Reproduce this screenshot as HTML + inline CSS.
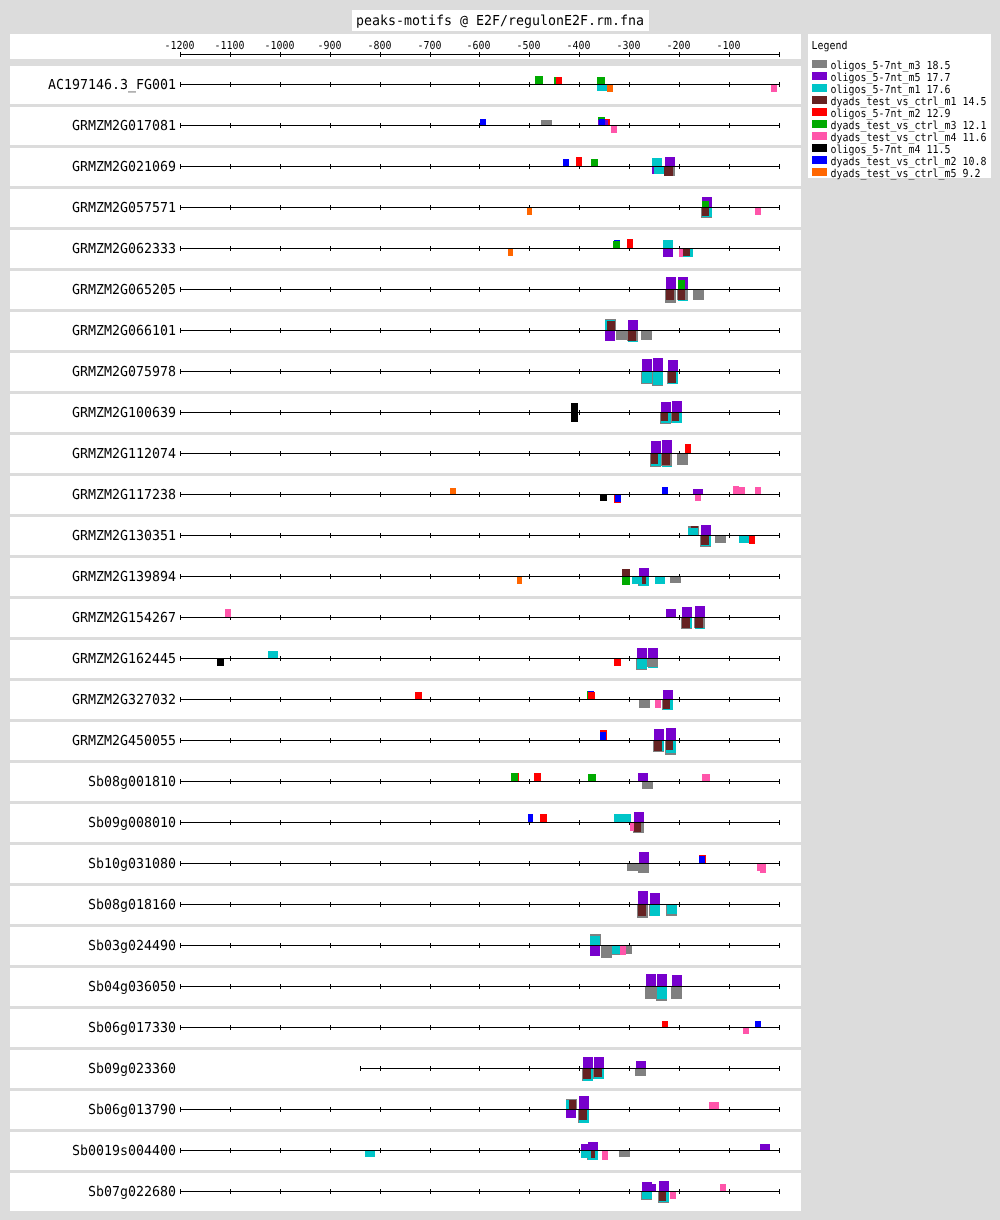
<!DOCTYPE html>
<html lang="en"><head><meta charset="utf-8"><title>peaks-motifs @ E2F/regulonE2F.rm.fna</title>
<style>
html,body{margin:0;padding:0;background:#dcdcdc;}
body{width:1000px;height:1220px;overflow:hidden;}
svg{display:block;will-change:transform;}
.t{font-family:"DejaVu Sans Mono","Liberation Mono",monospace;font-size:13.7px;fill:#000;}
.s{font-family:"DejaVu Sans Mono","Liberation Mono",monospace;font-size:11px;fill:#000;}
.ln{fill:#000;}
</style></head><body>
<svg width="1000" height="1220" viewBox="0 0 1000 1220" shape-rendering="crispEdges" text-rendering="geometricPrecision">
<rect x="0" y="0" width="1000" height="1220" fill="#dcdcdc"/>
<rect x="352" y="10" width="297" height="21" fill="#fff"/>
<text class="t" x="356" y="25" textLength="288" lengthAdjust="spacingAndGlyphs">peaks-motifs @ E2F/regulonE2F.rm.fna</text>
<rect x="10" y="34" width="791" height="25" fill="#fff"/>
<rect class="ln" x="180" y="54" width="600" height="1"/>
<rect class="ln" x="180" y="52" width="1" height="5"/>
<text class="s" x="164.5" y="49" textLength="30" lengthAdjust="spacingAndGlyphs">-1200</text>
<rect class="ln" x="230" y="52" width="1" height="5"/>
<text class="s" x="214.5" y="49" textLength="30" lengthAdjust="spacingAndGlyphs">-1100</text>
<rect class="ln" x="280" y="52" width="1" height="5"/>
<text class="s" x="264.5" y="49" textLength="30" lengthAdjust="spacingAndGlyphs">-1000</text>
<rect class="ln" x="330" y="52" width="1" height="5"/>
<text class="s" x="317.5" y="49" textLength="24" lengthAdjust="spacingAndGlyphs">-900</text>
<rect class="ln" x="380" y="52" width="1" height="5"/>
<text class="s" x="367.5" y="49" textLength="24" lengthAdjust="spacingAndGlyphs">-800</text>
<rect class="ln" x="430" y="52" width="1" height="5"/>
<text class="s" x="417.5" y="49" textLength="24" lengthAdjust="spacingAndGlyphs">-700</text>
<rect class="ln" x="479" y="52" width="1" height="5"/>
<text class="s" x="466.5" y="49" textLength="24" lengthAdjust="spacingAndGlyphs">-600</text>
<rect class="ln" x="529" y="52" width="1" height="5"/>
<text class="s" x="516.5" y="49" textLength="24" lengthAdjust="spacingAndGlyphs">-500</text>
<rect class="ln" x="579" y="52" width="1" height="5"/>
<text class="s" x="566.5" y="49" textLength="24" lengthAdjust="spacingAndGlyphs">-400</text>
<rect class="ln" x="629" y="52" width="1" height="5"/>
<text class="s" x="616.5" y="49" textLength="24" lengthAdjust="spacingAndGlyphs">-300</text>
<rect class="ln" x="679" y="52" width="1" height="5"/>
<text class="s" x="666.5" y="49" textLength="24" lengthAdjust="spacingAndGlyphs">-200</text>
<rect class="ln" x="729" y="52" width="1" height="5"/>
<text class="s" x="716.5" y="49" textLength="24" lengthAdjust="spacingAndGlyphs">-100</text>
<rect class="ln" x="779" y="52" width="1" height="5"/>
<rect x="808" y="34" width="183" height="144" fill="#fff"/>
<text class="s" x="811.5" y="49" textLength="36" lengthAdjust="spacingAndGlyphs">Legend</text>
<rect x="812" y="60" width="15" height="8" fill="#808080"/>
<text class="s" x="830.4" y="68.8" textLength="120" lengthAdjust="spacingAndGlyphs">oligos_5-7nt_m3 18.5</text>
<rect x="812" y="72" width="15" height="8" fill="#7700cc"/>
<text class="s" x="830.4" y="80.8" textLength="120" lengthAdjust="spacingAndGlyphs">oligos_5-7nt_m5 17.7</text>
<rect x="812" y="84" width="15" height="8" fill="#00c5c8"/>
<text class="s" x="830.4" y="92.8" textLength="120" lengthAdjust="spacingAndGlyphs">oligos_5-7nt_m1 17.6</text>
<rect x="812" y="96" width="15" height="8" fill="#662222"/>
<text class="s" x="830.4" y="104.8" textLength="156" lengthAdjust="spacingAndGlyphs">dyads_test_vs_ctrl_m1 14.5</text>
<rect x="812" y="108" width="15" height="8" fill="#ff0000"/>
<text class="s" x="830.4" y="116.8" textLength="120" lengthAdjust="spacingAndGlyphs">oligos_5-7nt_m2 12.9</text>
<rect x="812" y="120" width="15" height="8" fill="#00aa00"/>
<text class="s" x="830.4" y="128.8" textLength="156" lengthAdjust="spacingAndGlyphs">dyads_test_vs_ctrl_m3 12.1</text>
<rect x="812" y="132" width="15" height="8" fill="#ff55aa"/>
<text class="s" x="830.4" y="140.8" textLength="156" lengthAdjust="spacingAndGlyphs">dyads_test_vs_ctrl_m4 11.6</text>
<rect x="812" y="144" width="15" height="8" fill="#000000"/>
<text class="s" x="830.4" y="152.8" textLength="120" lengthAdjust="spacingAndGlyphs">oligos_5-7nt_m4 11.5</text>
<rect x="812" y="156" width="15" height="8" fill="#0000ff"/>
<text class="s" x="830.4" y="164.8" textLength="156" lengthAdjust="spacingAndGlyphs">dyads_test_vs_ctrl_m2 10.8</text>
<rect x="812" y="168" width="15" height="8" fill="#ff6600"/>
<text class="s" x="830.4" y="176.8" textLength="150" lengthAdjust="spacingAndGlyphs">dyads_test_vs_ctrl_m5 9.2</text>
<g>
<rect x="10" y="66" width="791" height="38" fill="#fff"/>
<text class="t" x="48" y="89" textLength="128" lengthAdjust="spacingAndGlyphs">AC197146.3_FG001</text>
<rect class="ln" x="180" y="84" width="600" height="1"/>
<rect class="ln" x="180" y="82" width="1" height="5"/>
<rect class="ln" x="230" y="82" width="1" height="5"/>
<rect class="ln" x="280" y="82" width="1" height="5"/>
<rect class="ln" x="330" y="82" width="1" height="5"/>
<rect class="ln" x="380" y="82" width="1" height="5"/>
<rect class="ln" x="430" y="82" width="1" height="5"/>
<rect class="ln" x="479" y="82" width="1" height="5"/>
<rect class="ln" x="529" y="82" width="1" height="5"/>
<rect class="ln" x="579" y="82" width="1" height="5"/>
<rect class="ln" x="629" y="82" width="1" height="5"/>
<rect class="ln" x="679" y="82" width="1" height="5"/>
<rect class="ln" x="729" y="82" width="1" height="5"/>
<rect class="ln" x="779" y="82" width="1" height="5"/>
<rect x="535" y="76" width="8" height="8" fill="#00aa00"/>
<rect x="554" y="77" width="7" height="7" fill="#00aa00"/>
<rect x="556" y="77" width="6" height="7" fill="#ff0000"/>
<rect x="597" y="77" width="8" height="7" fill="#00aa00"/>
<rect x="597" y="85" width="10" height="6" fill="#00c5c8"/>
<rect x="607" y="85" width="6" height="7" fill="#ff6600"/>
<rect x="771" y="85" width="6" height="7" fill="#ff55aa"/>
</g>
<g>
<rect x="10" y="107" width="791" height="38" fill="#fff"/>
<text class="t" x="72" y="130" textLength="104" lengthAdjust="spacingAndGlyphs">GRMZM2G017081</text>
<rect class="ln" x="180" y="125" width="600" height="1"/>
<rect class="ln" x="180" y="123" width="1" height="5"/>
<rect class="ln" x="230" y="123" width="1" height="5"/>
<rect class="ln" x="280" y="123" width="1" height="5"/>
<rect class="ln" x="330" y="123" width="1" height="5"/>
<rect class="ln" x="380" y="123" width="1" height="5"/>
<rect class="ln" x="430" y="123" width="1" height="5"/>
<rect class="ln" x="479" y="123" width="1" height="5"/>
<rect class="ln" x="529" y="123" width="1" height="5"/>
<rect class="ln" x="579" y="123" width="1" height="5"/>
<rect class="ln" x="629" y="123" width="1" height="5"/>
<rect class="ln" x="679" y="123" width="1" height="5"/>
<rect class="ln" x="729" y="123" width="1" height="5"/>
<rect class="ln" x="779" y="123" width="1" height="5"/>
<rect x="480" y="119" width="6" height="6" fill="#0000ff"/>
<rect x="541" y="120" width="11" height="5" fill="#808080"/>
<rect x="598" y="117" width="7" height="8" fill="#00aa00"/>
<rect x="603" y="119" width="7" height="6" fill="#ff0000"/>
<rect x="598" y="120" width="10" height="5" fill="#7700cc"/>
<rect x="599" y="119" width="6" height="6" fill="#0000ff"/>
<rect x="611" y="126" width="6" height="7" fill="#ff55aa"/>
</g>
<g>
<rect x="10" y="148" width="791" height="38" fill="#fff"/>
<text class="t" x="72" y="171" textLength="104" lengthAdjust="spacingAndGlyphs">GRMZM2G021069</text>
<rect class="ln" x="180" y="166" width="600" height="1"/>
<rect class="ln" x="180" y="164" width="1" height="5"/>
<rect class="ln" x="230" y="164" width="1" height="5"/>
<rect class="ln" x="280" y="164" width="1" height="5"/>
<rect class="ln" x="330" y="164" width="1" height="5"/>
<rect class="ln" x="380" y="164" width="1" height="5"/>
<rect class="ln" x="430" y="164" width="1" height="5"/>
<rect class="ln" x="479" y="164" width="1" height="5"/>
<rect class="ln" x="529" y="164" width="1" height="5"/>
<rect class="ln" x="579" y="164" width="1" height="5"/>
<rect class="ln" x="629" y="164" width="1" height="5"/>
<rect class="ln" x="679" y="164" width="1" height="5"/>
<rect class="ln" x="729" y="164" width="1" height="5"/>
<rect class="ln" x="779" y="164" width="1" height="5"/>
<rect x="563" y="159" width="6" height="7" fill="#0000ff"/>
<rect x="576" y="157" width="6" height="9" fill="#ff0000"/>
<rect x="591" y="159" width="7" height="7" fill="#00aa00"/>
<rect x="652" y="158" width="10" height="8" fill="#00c5c8"/>
<rect x="665" y="157" width="10" height="9" fill="#7700cc"/>
<rect x="652" y="167" width="10" height="7" fill="#7700cc"/>
<rect x="654" y="167" width="10" height="7" fill="#00c5c8"/>
<rect x="664" y="167" width="11" height="9" fill="#808080"/>
<rect x="664" y="167" width="9" height="9" fill="#662222"/>
</g>
<g>
<rect x="10" y="189" width="791" height="38" fill="#fff"/>
<text class="t" x="72" y="212" textLength="104" lengthAdjust="spacingAndGlyphs">GRMZM2G057571</text>
<rect class="ln" x="180" y="207" width="600" height="1"/>
<rect class="ln" x="180" y="205" width="1" height="5"/>
<rect class="ln" x="230" y="205" width="1" height="5"/>
<rect class="ln" x="280" y="205" width="1" height="5"/>
<rect class="ln" x="330" y="205" width="1" height="5"/>
<rect class="ln" x="380" y="205" width="1" height="5"/>
<rect class="ln" x="430" y="205" width="1" height="5"/>
<rect class="ln" x="479" y="205" width="1" height="5"/>
<rect class="ln" x="529" y="205" width="1" height="5"/>
<rect class="ln" x="579" y="205" width="1" height="5"/>
<rect class="ln" x="629" y="205" width="1" height="5"/>
<rect class="ln" x="679" y="205" width="1" height="5"/>
<rect class="ln" x="729" y="205" width="1" height="5"/>
<rect class="ln" x="779" y="205" width="1" height="5"/>
<rect x="527" y="208" width="5" height="7" fill="#ff6600"/>
<rect x="702" y="197" width="10" height="10" fill="#7700cc"/>
<rect x="702" y="201" width="7" height="6" fill="#00aa00"/>
<rect x="701" y="208" width="11" height="10" fill="#808080"/>
<rect x="702" y="208" width="10" height="9" fill="#00c5c8"/>
<rect x="702" y="208" width="7" height="8" fill="#662222"/>
<rect x="755" y="208" width="6" height="7" fill="#ff55aa"/>
</g>
<g>
<rect x="10" y="230" width="791" height="38" fill="#fff"/>
<text class="t" x="72" y="253" textLength="104" lengthAdjust="spacingAndGlyphs">GRMZM2G062333</text>
<rect class="ln" x="180" y="248" width="600" height="1"/>
<rect class="ln" x="180" y="246" width="1" height="5"/>
<rect class="ln" x="230" y="246" width="1" height="5"/>
<rect class="ln" x="280" y="246" width="1" height="5"/>
<rect class="ln" x="330" y="246" width="1" height="5"/>
<rect class="ln" x="380" y="246" width="1" height="5"/>
<rect class="ln" x="430" y="246" width="1" height="5"/>
<rect class="ln" x="479" y="246" width="1" height="5"/>
<rect class="ln" x="529" y="246" width="1" height="5"/>
<rect class="ln" x="579" y="246" width="1" height="5"/>
<rect class="ln" x="629" y="246" width="1" height="5"/>
<rect class="ln" x="679" y="246" width="1" height="5"/>
<rect class="ln" x="729" y="246" width="1" height="5"/>
<rect class="ln" x="779" y="246" width="1" height="5"/>
<rect x="508" y="249" width="5" height="7" fill="#ff6600"/>
<rect x="614" y="240" width="6" height="8" fill="#0000ff"/>
<rect x="613" y="241" width="7" height="7" fill="#00aa00"/>
<rect x="627" y="239" width="6" height="9" fill="#ff0000"/>
<rect x="663" y="240" width="10" height="8" fill="#00c5c8"/>
<rect x="663" y="249" width="10" height="8" fill="#7700cc"/>
<rect x="679" y="249" width="6" height="8" fill="#ff55aa"/>
<rect x="683" y="249" width="10" height="8" fill="#00c5c8"/>
<rect x="683" y="249" width="7" height="7" fill="#662222"/>
</g>
<g>
<rect x="10" y="271" width="791" height="38" fill="#fff"/>
<text class="t" x="72" y="294" textLength="104" lengthAdjust="spacingAndGlyphs">GRMZM2G065205</text>
<rect class="ln" x="180" y="289" width="600" height="1"/>
<rect class="ln" x="180" y="287" width="1" height="5"/>
<rect class="ln" x="230" y="287" width="1" height="5"/>
<rect class="ln" x="280" y="287" width="1" height="5"/>
<rect class="ln" x="330" y="287" width="1" height="5"/>
<rect class="ln" x="380" y="287" width="1" height="5"/>
<rect class="ln" x="430" y="287" width="1" height="5"/>
<rect class="ln" x="479" y="287" width="1" height="5"/>
<rect class="ln" x="529" y="287" width="1" height="5"/>
<rect class="ln" x="579" y="287" width="1" height="5"/>
<rect class="ln" x="629" y="287" width="1" height="5"/>
<rect class="ln" x="679" y="287" width="1" height="5"/>
<rect class="ln" x="729" y="287" width="1" height="5"/>
<rect class="ln" x="779" y="287" width="1" height="5"/>
<rect x="666" y="277" width="10" height="12" fill="#7700cc"/>
<rect x="678" y="277" width="10" height="12" fill="#7700cc"/>
<rect x="678" y="280" width="7" height="9" fill="#00aa00"/>
<rect x="665" y="290" width="11" height="13" fill="#808080"/>
<rect x="666" y="290" width="8" height="10" fill="#662222"/>
<rect x="678" y="290" width="10" height="11" fill="#00c5c8"/>
<rect x="677" y="290" width="11" height="10" fill="#808080"/>
<rect x="678" y="290" width="7" height="10" fill="#662222"/>
<rect x="693" y="290" width="11" height="10" fill="#808080"/>
</g>
<g>
<rect x="10" y="312" width="791" height="38" fill="#fff"/>
<text class="t" x="72" y="335" textLength="104" lengthAdjust="spacingAndGlyphs">GRMZM2G066101</text>
<rect class="ln" x="180" y="330" width="600" height="1"/>
<rect class="ln" x="180" y="328" width="1" height="5"/>
<rect class="ln" x="230" y="328" width="1" height="5"/>
<rect class="ln" x="280" y="328" width="1" height="5"/>
<rect class="ln" x="330" y="328" width="1" height="5"/>
<rect class="ln" x="380" y="328" width="1" height="5"/>
<rect class="ln" x="430" y="328" width="1" height="5"/>
<rect class="ln" x="479" y="328" width="1" height="5"/>
<rect class="ln" x="529" y="328" width="1" height="5"/>
<rect class="ln" x="579" y="328" width="1" height="5"/>
<rect class="ln" x="629" y="328" width="1" height="5"/>
<rect class="ln" x="679" y="328" width="1" height="5"/>
<rect class="ln" x="729" y="328" width="1" height="5"/>
<rect class="ln" x="779" y="328" width="1" height="5"/>
<rect x="605" y="319" width="11" height="11" fill="#808080"/>
<rect x="605" y="320" width="10" height="10" fill="#00c5c8"/>
<rect x="607" y="321" width="8" height="9" fill="#662222"/>
<rect x="628" y="320" width="10" height="10" fill="#7700cc"/>
<rect x="605" y="331" width="10" height="10" fill="#7700cc"/>
<rect x="616" y="331" width="11" height="9" fill="#808080"/>
<rect x="628" y="331" width="10" height="11" fill="#00c5c8"/>
<rect x="627" y="331" width="11" height="10" fill="#808080"/>
<rect x="628" y="331" width="8" height="10" fill="#662222"/>
<rect x="641" y="331" width="11" height="9" fill="#808080"/>
</g>
<g>
<rect x="10" y="353" width="791" height="38" fill="#fff"/>
<text class="t" x="72" y="376" textLength="104" lengthAdjust="spacingAndGlyphs">GRMZM2G075978</text>
<rect class="ln" x="180" y="371" width="600" height="1"/>
<rect class="ln" x="180" y="369" width="1" height="5"/>
<rect class="ln" x="230" y="369" width="1" height="5"/>
<rect class="ln" x="280" y="369" width="1" height="5"/>
<rect class="ln" x="330" y="369" width="1" height="5"/>
<rect class="ln" x="380" y="369" width="1" height="5"/>
<rect class="ln" x="430" y="369" width="1" height="5"/>
<rect class="ln" x="479" y="369" width="1" height="5"/>
<rect class="ln" x="529" y="369" width="1" height="5"/>
<rect class="ln" x="579" y="369" width="1" height="5"/>
<rect class="ln" x="629" y="369" width="1" height="5"/>
<rect class="ln" x="679" y="369" width="1" height="5"/>
<rect class="ln" x="729" y="369" width="1" height="5"/>
<rect class="ln" x="779" y="369" width="1" height="5"/>
<rect x="642" y="359" width="10" height="12" fill="#7700cc"/>
<rect x="653" y="358" width="10" height="13" fill="#7700cc"/>
<rect x="668" y="360" width="10" height="11" fill="#7700cc"/>
<rect x="641" y="372" width="11" height="12" fill="#808080"/>
<rect x="642" y="372" width="10" height="11" fill="#00c5c8"/>
<rect x="652" y="372" width="11" height="14" fill="#808080"/>
<rect x="653" y="372" width="10" height="13" fill="#00c5c8"/>
<rect x="667" y="372" width="11" height="12" fill="#808080"/>
<rect x="668" y="372" width="10" height="12" fill="#00c5c8"/>
<rect x="668" y="372" width="8" height="11" fill="#662222"/>
</g>
<g>
<rect x="10" y="394" width="791" height="38" fill="#fff"/>
<text class="t" x="72" y="417" textLength="104" lengthAdjust="spacingAndGlyphs">GRMZM2G100639</text>
<rect class="ln" x="180" y="412" width="600" height="1"/>
<rect class="ln" x="180" y="410" width="1" height="5"/>
<rect class="ln" x="230" y="410" width="1" height="5"/>
<rect class="ln" x="280" y="410" width="1" height="5"/>
<rect class="ln" x="330" y="410" width="1" height="5"/>
<rect class="ln" x="380" y="410" width="1" height="5"/>
<rect class="ln" x="430" y="410" width="1" height="5"/>
<rect class="ln" x="479" y="410" width="1" height="5"/>
<rect class="ln" x="529" y="410" width="1" height="5"/>
<rect class="ln" x="579" y="410" width="1" height="5"/>
<rect class="ln" x="629" y="410" width="1" height="5"/>
<rect class="ln" x="679" y="410" width="1" height="5"/>
<rect class="ln" x="729" y="410" width="1" height="5"/>
<rect class="ln" x="779" y="410" width="1" height="5"/>
<rect x="571" y="403" width="7" height="9" fill="#000000"/>
<rect x="571" y="413" width="7" height="9" fill="#000000"/>
<rect x="661" y="402" width="10" height="10" fill="#7700cc"/>
<rect x="672" y="401" width="10" height="11" fill="#7700cc"/>
<rect x="660" y="413" width="11" height="11" fill="#808080"/>
<rect x="661" y="413" width="10" height="10" fill="#00c5c8"/>
<rect x="661" y="413" width="7" height="8" fill="#662222"/>
<rect x="671" y="413" width="11" height="10" fill="#808080"/>
<rect x="672" y="413" width="10" height="10" fill="#00c5c8"/>
<rect x="672" y="413" width="7" height="8" fill="#662222"/>
</g>
<g>
<rect x="10" y="435" width="791" height="38" fill="#fff"/>
<text class="t" x="72" y="458" textLength="104" lengthAdjust="spacingAndGlyphs">GRMZM2G112074</text>
<rect class="ln" x="180" y="453" width="600" height="1"/>
<rect class="ln" x="180" y="451" width="1" height="5"/>
<rect class="ln" x="230" y="451" width="1" height="5"/>
<rect class="ln" x="280" y="451" width="1" height="5"/>
<rect class="ln" x="330" y="451" width="1" height="5"/>
<rect class="ln" x="380" y="451" width="1" height="5"/>
<rect class="ln" x="430" y="451" width="1" height="5"/>
<rect class="ln" x="479" y="451" width="1" height="5"/>
<rect class="ln" x="529" y="451" width="1" height="5"/>
<rect class="ln" x="579" y="451" width="1" height="5"/>
<rect class="ln" x="629" y="451" width="1" height="5"/>
<rect class="ln" x="679" y="451" width="1" height="5"/>
<rect class="ln" x="729" y="451" width="1" height="5"/>
<rect class="ln" x="779" y="451" width="1" height="5"/>
<rect x="651" y="441" width="10" height="12" fill="#7700cc"/>
<rect x="662" y="440" width="10" height="13" fill="#7700cc"/>
<rect x="685" y="444" width="6" height="9" fill="#ff0000"/>
<rect x="650" y="454" width="11" height="13" fill="#808080"/>
<rect x="651" y="454" width="10" height="12" fill="#00c5c8"/>
<rect x="651" y="454" width="7" height="10" fill="#662222"/>
<rect x="662" y="454" width="10" height="13" fill="#00c5c8"/>
<rect x="661" y="454" width="11" height="12" fill="#808080"/>
<rect x="662" y="454" width="8" height="11" fill="#662222"/>
<rect x="677" y="454" width="11" height="11" fill="#808080"/>
</g>
<g>
<rect x="10" y="476" width="791" height="38" fill="#fff"/>
<text class="t" x="72" y="499" textLength="104" lengthAdjust="spacingAndGlyphs">GRMZM2G117238</text>
<rect class="ln" x="180" y="494" width="600" height="1"/>
<rect class="ln" x="180" y="492" width="1" height="5"/>
<rect class="ln" x="230" y="492" width="1" height="5"/>
<rect class="ln" x="280" y="492" width="1" height="5"/>
<rect class="ln" x="330" y="492" width="1" height="5"/>
<rect class="ln" x="380" y="492" width="1" height="5"/>
<rect class="ln" x="430" y="492" width="1" height="5"/>
<rect class="ln" x="479" y="492" width="1" height="5"/>
<rect class="ln" x="529" y="492" width="1" height="5"/>
<rect class="ln" x="579" y="492" width="1" height="5"/>
<rect class="ln" x="629" y="492" width="1" height="5"/>
<rect class="ln" x="679" y="492" width="1" height="5"/>
<rect class="ln" x="729" y="492" width="1" height="5"/>
<rect class="ln" x="779" y="492" width="1" height="5"/>
<rect x="450" y="488" width="6" height="6" fill="#ff6600"/>
<rect x="600" y="495" width="7" height="6" fill="#000000"/>
<rect x="614" y="495" width="7" height="8" fill="#ff0000"/>
<rect x="615" y="495" width="6" height="7" fill="#0000ff"/>
<rect x="662" y="487" width="6" height="7" fill="#0000ff"/>
<rect x="693" y="489" width="10" height="5" fill="#7700cc"/>
<rect x="695" y="495" width="6" height="6" fill="#ff55aa"/>
<rect x="733" y="486" width="6" height="8" fill="#ff55aa"/>
<rect x="739" y="487" width="6" height="7" fill="#ff55aa"/>
<rect x="755" y="487" width="6" height="7" fill="#ff55aa"/>
</g>
<g>
<rect x="10" y="517" width="791" height="38" fill="#fff"/>
<text class="t" x="72" y="540" textLength="104" lengthAdjust="spacingAndGlyphs">GRMZM2G130351</text>
<rect class="ln" x="180" y="535" width="600" height="1"/>
<rect class="ln" x="180" y="533" width="1" height="5"/>
<rect class="ln" x="230" y="533" width="1" height="5"/>
<rect class="ln" x="280" y="533" width="1" height="5"/>
<rect class="ln" x="330" y="533" width="1" height="5"/>
<rect class="ln" x="380" y="533" width="1" height="5"/>
<rect class="ln" x="430" y="533" width="1" height="5"/>
<rect class="ln" x="479" y="533" width="1" height="5"/>
<rect class="ln" x="529" y="533" width="1" height="5"/>
<rect class="ln" x="579" y="533" width="1" height="5"/>
<rect class="ln" x="629" y="533" width="1" height="5"/>
<rect class="ln" x="679" y="533" width="1" height="5"/>
<rect class="ln" x="729" y="533" width="1" height="5"/>
<rect class="ln" x="779" y="533" width="1" height="5"/>
<rect x="688" y="526" width="11" height="9" fill="#808080"/>
<rect x="691" y="526" width="7" height="9" fill="#662222"/>
<rect x="688" y="528" width="10" height="7" fill="#00c5c8"/>
<rect x="701" y="525" width="10" height="10" fill="#7700cc"/>
<rect x="700" y="536" width="11" height="11" fill="#808080"/>
<rect x="701" y="536" width="10" height="10" fill="#00c5c8"/>
<rect x="701" y="536" width="8" height="9" fill="#662222"/>
<rect x="715" y="536" width="11" height="7" fill="#808080"/>
<rect x="739" y="536" width="10" height="7" fill="#00c5c8"/>
<rect x="749" y="536" width="6" height="8" fill="#ff0000"/>
</g>
<g>
<rect x="10" y="558" width="791" height="38" fill="#fff"/>
<text class="t" x="72" y="581" textLength="104" lengthAdjust="spacingAndGlyphs">GRMZM2G139894</text>
<rect class="ln" x="180" y="576" width="600" height="1"/>
<rect class="ln" x="180" y="574" width="1" height="5"/>
<rect class="ln" x="230" y="574" width="1" height="5"/>
<rect class="ln" x="280" y="574" width="1" height="5"/>
<rect class="ln" x="330" y="574" width="1" height="5"/>
<rect class="ln" x="380" y="574" width="1" height="5"/>
<rect class="ln" x="430" y="574" width="1" height="5"/>
<rect class="ln" x="479" y="574" width="1" height="5"/>
<rect class="ln" x="529" y="574" width="1" height="5"/>
<rect class="ln" x="579" y="574" width="1" height="5"/>
<rect class="ln" x="629" y="574" width="1" height="5"/>
<rect class="ln" x="679" y="574" width="1" height="5"/>
<rect class="ln" x="729" y="574" width="1" height="5"/>
<rect class="ln" x="779" y="574" width="1" height="5"/>
<rect x="517" y="577" width="5" height="7" fill="#ff6600"/>
<rect x="622" y="569" width="8" height="7" fill="#662222"/>
<rect x="639" y="568" width="10" height="8" fill="#7700cc"/>
<rect x="622" y="577" width="8" height="8" fill="#00aa00"/>
<rect x="638" y="577" width="11" height="9" fill="#808080"/>
<rect x="632" y="577" width="10" height="7" fill="#00c5c8"/>
<rect x="639" y="577" width="10" height="9" fill="#00c5c8"/>
<rect x="642" y="577" width="4" height="7" fill="#662222"/>
<rect x="655" y="577" width="10" height="7" fill="#00c5c8"/>
<rect x="670" y="577" width="11" height="6" fill="#808080"/>
</g>
<g>
<rect x="10" y="599" width="791" height="38" fill="#fff"/>
<text class="t" x="72" y="622" textLength="104" lengthAdjust="spacingAndGlyphs">GRMZM2G154267</text>
<rect class="ln" x="180" y="617" width="600" height="1"/>
<rect class="ln" x="180" y="615" width="1" height="5"/>
<rect class="ln" x="230" y="615" width="1" height="5"/>
<rect class="ln" x="280" y="615" width="1" height="5"/>
<rect class="ln" x="330" y="615" width="1" height="5"/>
<rect class="ln" x="380" y="615" width="1" height="5"/>
<rect class="ln" x="430" y="615" width="1" height="5"/>
<rect class="ln" x="479" y="615" width="1" height="5"/>
<rect class="ln" x="529" y="615" width="1" height="5"/>
<rect class="ln" x="579" y="615" width="1" height="5"/>
<rect class="ln" x="629" y="615" width="1" height="5"/>
<rect class="ln" x="679" y="615" width="1" height="5"/>
<rect class="ln" x="729" y="615" width="1" height="5"/>
<rect class="ln" x="779" y="615" width="1" height="5"/>
<rect x="225" y="609" width="6" height="8" fill="#ff55aa"/>
<rect x="666" y="609" width="10" height="8" fill="#7700cc"/>
<rect x="682" y="607" width="10" height="10" fill="#7700cc"/>
<rect x="695" y="606" width="10" height="11" fill="#7700cc"/>
<rect x="681" y="618" width="11" height="11" fill="#808080"/>
<rect x="682" y="618" width="10" height="10" fill="#00c5c8"/>
<rect x="682" y="618" width="8" height="10" fill="#662222"/>
<rect x="695" y="618" width="10" height="11" fill="#00c5c8"/>
<rect x="694" y="618" width="11" height="10" fill="#808080"/>
<rect x="695" y="618" width="8" height="10" fill="#662222"/>
</g>
<g>
<rect x="10" y="640" width="791" height="38" fill="#fff"/>
<text class="t" x="72" y="663" textLength="104" lengthAdjust="spacingAndGlyphs">GRMZM2G162445</text>
<rect class="ln" x="180" y="658" width="600" height="1"/>
<rect class="ln" x="180" y="656" width="1" height="5"/>
<rect class="ln" x="230" y="656" width="1" height="5"/>
<rect class="ln" x="280" y="656" width="1" height="5"/>
<rect class="ln" x="330" y="656" width="1" height="5"/>
<rect class="ln" x="380" y="656" width="1" height="5"/>
<rect class="ln" x="430" y="656" width="1" height="5"/>
<rect class="ln" x="479" y="656" width="1" height="5"/>
<rect class="ln" x="529" y="656" width="1" height="5"/>
<rect class="ln" x="579" y="656" width="1" height="5"/>
<rect class="ln" x="629" y="656" width="1" height="5"/>
<rect class="ln" x="679" y="656" width="1" height="5"/>
<rect class="ln" x="729" y="656" width="1" height="5"/>
<rect class="ln" x="779" y="656" width="1" height="5"/>
<rect x="217" y="659" width="7" height="7" fill="#000000"/>
<rect x="268" y="651" width="10" height="7" fill="#00c5c8"/>
<rect x="614" y="659" width="7" height="7" fill="#ff0000"/>
<rect x="637" y="648" width="10" height="10" fill="#7700cc"/>
<rect x="648" y="648" width="10" height="10" fill="#7700cc"/>
<rect x="636" y="659" width="11" height="11" fill="#808080"/>
<rect x="637" y="659" width="10" height="10" fill="#00c5c8"/>
<rect x="648" y="659" width="10" height="9" fill="#00c5c8"/>
<rect x="647" y="659" width="11" height="8" fill="#808080"/>
</g>
<g>
<rect x="10" y="681" width="791" height="38" fill="#fff"/>
<text class="t" x="72" y="704" textLength="104" lengthAdjust="spacingAndGlyphs">GRMZM2G327032</text>
<rect class="ln" x="180" y="699" width="600" height="1"/>
<rect class="ln" x="180" y="697" width="1" height="5"/>
<rect class="ln" x="230" y="697" width="1" height="5"/>
<rect class="ln" x="280" y="697" width="1" height="5"/>
<rect class="ln" x="330" y="697" width="1" height="5"/>
<rect class="ln" x="380" y="697" width="1" height="5"/>
<rect class="ln" x="430" y="697" width="1" height="5"/>
<rect class="ln" x="479" y="697" width="1" height="5"/>
<rect class="ln" x="529" y="697" width="1" height="5"/>
<rect class="ln" x="579" y="697" width="1" height="5"/>
<rect class="ln" x="629" y="697" width="1" height="5"/>
<rect class="ln" x="679" y="697" width="1" height="5"/>
<rect class="ln" x="729" y="697" width="1" height="5"/>
<rect class="ln" x="779" y="697" width="1" height="5"/>
<rect x="415" y="692" width="7" height="7" fill="#ff0000"/>
<rect x="587" y="691" width="7" height="8" fill="#00aa00"/>
<rect x="588" y="691" width="6" height="8" fill="#0000ff"/>
<rect x="588" y="692" width="7" height="7" fill="#ff0000"/>
<rect x="663" y="690" width="10" height="9" fill="#7700cc"/>
<rect x="639" y="700" width="11" height="8" fill="#808080"/>
<rect x="655" y="700" width="6" height="8" fill="#ff55aa"/>
<rect x="662" y="700" width="11" height="10" fill="#808080"/>
<rect x="663" y="700" width="10" height="10" fill="#00c5c8"/>
<rect x="663" y="700" width="7" height="9" fill="#662222"/>
</g>
<g>
<rect x="10" y="722" width="791" height="38" fill="#fff"/>
<text class="t" x="72" y="745" textLength="104" lengthAdjust="spacingAndGlyphs">GRMZM2G450055</text>
<rect class="ln" x="180" y="740" width="600" height="1"/>
<rect class="ln" x="180" y="738" width="1" height="5"/>
<rect class="ln" x="230" y="738" width="1" height="5"/>
<rect class="ln" x="280" y="738" width="1" height="5"/>
<rect class="ln" x="330" y="738" width="1" height="5"/>
<rect class="ln" x="380" y="738" width="1" height="5"/>
<rect class="ln" x="430" y="738" width="1" height="5"/>
<rect class="ln" x="479" y="738" width="1" height="5"/>
<rect class="ln" x="529" y="738" width="1" height="5"/>
<rect class="ln" x="579" y="738" width="1" height="5"/>
<rect class="ln" x="629" y="738" width="1" height="5"/>
<rect class="ln" x="679" y="738" width="1" height="5"/>
<rect class="ln" x="729" y="738" width="1" height="5"/>
<rect class="ln" x="779" y="738" width="1" height="5"/>
<rect x="600" y="730" width="7" height="10" fill="#ff0000"/>
<rect x="600" y="732" width="6" height="8" fill="#0000ff"/>
<rect x="654" y="729" width="10" height="11" fill="#7700cc"/>
<rect x="666" y="728" width="10" height="12" fill="#7700cc"/>
<rect x="653" y="741" width="11" height="11" fill="#808080"/>
<rect x="654" y="741" width="10" height="10" fill="#00c5c8"/>
<rect x="654" y="741" width="8" height="10" fill="#662222"/>
<rect x="665" y="741" width="11" height="14" fill="#808080"/>
<rect x="666" y="741" width="10" height="12" fill="#00c5c8"/>
<rect x="666" y="741" width="7" height="9" fill="#662222"/>
</g>
<g>
<rect x="10" y="763" width="791" height="38" fill="#fff"/>
<text class="t" x="88" y="786" textLength="88" lengthAdjust="spacingAndGlyphs">Sb08g001810</text>
<rect class="ln" x="180" y="781" width="600" height="1"/>
<rect class="ln" x="180" y="779" width="1" height="5"/>
<rect class="ln" x="230" y="779" width="1" height="5"/>
<rect class="ln" x="280" y="779" width="1" height="5"/>
<rect class="ln" x="330" y="779" width="1" height="5"/>
<rect class="ln" x="380" y="779" width="1" height="5"/>
<rect class="ln" x="430" y="779" width="1" height="5"/>
<rect class="ln" x="479" y="779" width="1" height="5"/>
<rect class="ln" x="529" y="779" width="1" height="5"/>
<rect class="ln" x="579" y="779" width="1" height="5"/>
<rect class="ln" x="629" y="779" width="1" height="5"/>
<rect class="ln" x="679" y="779" width="1" height="5"/>
<rect class="ln" x="729" y="779" width="1" height="5"/>
<rect class="ln" x="779" y="779" width="1" height="5"/>
<rect x="512" y="773" width="7" height="8" fill="#ff0000"/>
<rect x="511" y="773" width="7" height="8" fill="#00aa00"/>
<rect x="534" y="773" width="7" height="8" fill="#ff0000"/>
<rect x="588" y="774" width="8" height="7" fill="#00aa00"/>
<rect x="638" y="773" width="10" height="8" fill="#7700cc"/>
<rect x="642" y="782" width="11" height="7" fill="#808080"/>
<rect x="702" y="774" width="8" height="7" fill="#ff55aa"/>
</g>
<g>
<rect x="10" y="804" width="791" height="38" fill="#fff"/>
<text class="t" x="88" y="827" textLength="88" lengthAdjust="spacingAndGlyphs">Sb09g008010</text>
<rect class="ln" x="180" y="822" width="600" height="1"/>
<rect class="ln" x="180" y="820" width="1" height="5"/>
<rect class="ln" x="230" y="820" width="1" height="5"/>
<rect class="ln" x="280" y="820" width="1" height="5"/>
<rect class="ln" x="330" y="820" width="1" height="5"/>
<rect class="ln" x="380" y="820" width="1" height="5"/>
<rect class="ln" x="430" y="820" width="1" height="5"/>
<rect class="ln" x="479" y="820" width="1" height="5"/>
<rect class="ln" x="529" y="820" width="1" height="5"/>
<rect class="ln" x="579" y="820" width="1" height="5"/>
<rect class="ln" x="629" y="820" width="1" height="5"/>
<rect class="ln" x="679" y="820" width="1" height="5"/>
<rect class="ln" x="729" y="820" width="1" height="5"/>
<rect class="ln" x="779" y="820" width="1" height="5"/>
<rect x="528" y="814" width="5" height="8" fill="#0000ff"/>
<rect x="540" y="814" width="7" height="8" fill="#ff0000"/>
<rect x="614" y="814" width="17" height="8" fill="#00c5c8"/>
<rect x="634" y="812" width="10" height="10" fill="#7700cc"/>
<rect x="633" y="823" width="11" height="10" fill="#808080"/>
<rect x="630" y="823" width="4" height="8" fill="#ff55aa"/>
<rect x="634" y="823" width="7" height="9" fill="#662222"/>
</g>
<g>
<rect x="10" y="845" width="791" height="38" fill="#fff"/>
<text class="t" x="88" y="868" textLength="88" lengthAdjust="spacingAndGlyphs">Sb10g031080</text>
<rect class="ln" x="180" y="863" width="600" height="1"/>
<rect class="ln" x="180" y="861" width="1" height="5"/>
<rect class="ln" x="230" y="861" width="1" height="5"/>
<rect class="ln" x="280" y="861" width="1" height="5"/>
<rect class="ln" x="330" y="861" width="1" height="5"/>
<rect class="ln" x="380" y="861" width="1" height="5"/>
<rect class="ln" x="430" y="861" width="1" height="5"/>
<rect class="ln" x="479" y="861" width="1" height="5"/>
<rect class="ln" x="529" y="861" width="1" height="5"/>
<rect class="ln" x="579" y="861" width="1" height="5"/>
<rect class="ln" x="629" y="861" width="1" height="5"/>
<rect class="ln" x="679" y="861" width="1" height="5"/>
<rect class="ln" x="729" y="861" width="1" height="5"/>
<rect class="ln" x="779" y="861" width="1" height="5"/>
<rect x="639" y="852" width="10" height="11" fill="#7700cc"/>
<rect x="627" y="864" width="11" height="7" fill="#808080"/>
<rect x="638" y="864" width="11" height="9" fill="#808080"/>
<rect x="699" y="855" width="7" height="8" fill="#ff0000"/>
<rect x="699" y="856" width="6" height="7" fill="#0000ff"/>
<rect x="757" y="864" width="6" height="7" fill="#ff55aa"/>
<rect x="760" y="864" width="6" height="9" fill="#ff55aa"/>
</g>
<g>
<rect x="10" y="886" width="791" height="38" fill="#fff"/>
<text class="t" x="88" y="909" textLength="88" lengthAdjust="spacingAndGlyphs">Sb08g018160</text>
<rect class="ln" x="180" y="904" width="600" height="1"/>
<rect class="ln" x="180" y="902" width="1" height="5"/>
<rect class="ln" x="230" y="902" width="1" height="5"/>
<rect class="ln" x="280" y="902" width="1" height="5"/>
<rect class="ln" x="330" y="902" width="1" height="5"/>
<rect class="ln" x="380" y="902" width="1" height="5"/>
<rect class="ln" x="430" y="902" width="1" height="5"/>
<rect class="ln" x="479" y="902" width="1" height="5"/>
<rect class="ln" x="529" y="902" width="1" height="5"/>
<rect class="ln" x="579" y="902" width="1" height="5"/>
<rect class="ln" x="629" y="902" width="1" height="5"/>
<rect class="ln" x="679" y="902" width="1" height="5"/>
<rect class="ln" x="729" y="902" width="1" height="5"/>
<rect class="ln" x="779" y="902" width="1" height="5"/>
<rect x="638" y="891" width="10" height="13" fill="#7700cc"/>
<rect x="650" y="893" width="10" height="11" fill="#7700cc"/>
<rect x="637" y="905" width="11" height="13" fill="#808080"/>
<rect x="638" y="905" width="8" height="11" fill="#662222"/>
<rect x="649" y="905" width="11" height="11" fill="#808080"/>
<rect x="650" y="905" width="10" height="11" fill="#00c5c8"/>
<rect x="666" y="905" width="11" height="11" fill="#808080"/>
<rect x="667" y="905" width="10" height="9" fill="#00c5c8"/>
</g>
<g>
<rect x="10" y="927" width="791" height="38" fill="#fff"/>
<text class="t" x="88" y="950" textLength="88" lengthAdjust="spacingAndGlyphs">Sb03g024490</text>
<rect class="ln" x="180" y="945" width="600" height="1"/>
<rect class="ln" x="180" y="943" width="1" height="5"/>
<rect class="ln" x="230" y="943" width="1" height="5"/>
<rect class="ln" x="280" y="943" width="1" height="5"/>
<rect class="ln" x="330" y="943" width="1" height="5"/>
<rect class="ln" x="380" y="943" width="1" height="5"/>
<rect class="ln" x="430" y="943" width="1" height="5"/>
<rect class="ln" x="479" y="943" width="1" height="5"/>
<rect class="ln" x="529" y="943" width="1" height="5"/>
<rect class="ln" x="579" y="943" width="1" height="5"/>
<rect class="ln" x="629" y="943" width="1" height="5"/>
<rect class="ln" x="679" y="943" width="1" height="5"/>
<rect class="ln" x="729" y="943" width="1" height="5"/>
<rect class="ln" x="779" y="943" width="1" height="5"/>
<rect x="590" y="934" width="11" height="11" fill="#808080"/>
<rect x="590" y="936" width="10" height="9" fill="#00c5c8"/>
<rect x="590" y="946" width="10" height="10" fill="#7700cc"/>
<rect x="601" y="946" width="11" height="12" fill="#808080"/>
<rect x="612" y="946" width="11" height="9" fill="#808080"/>
<rect x="612" y="946" width="8" height="8" fill="#00c5c8"/>
<rect x="621" y="946" width="11" height="8" fill="#808080"/>
<rect x="620" y="946" width="6" height="9" fill="#ff55aa"/>
</g>
<g>
<rect x="10" y="968" width="791" height="38" fill="#fff"/>
<text class="t" x="88" y="991" textLength="88" lengthAdjust="spacingAndGlyphs">Sb04g036050</text>
<rect class="ln" x="180" y="986" width="600" height="1"/>
<rect class="ln" x="180" y="984" width="1" height="5"/>
<rect class="ln" x="230" y="984" width="1" height="5"/>
<rect class="ln" x="280" y="984" width="1" height="5"/>
<rect class="ln" x="330" y="984" width="1" height="5"/>
<rect class="ln" x="380" y="984" width="1" height="5"/>
<rect class="ln" x="430" y="984" width="1" height="5"/>
<rect class="ln" x="479" y="984" width="1" height="5"/>
<rect class="ln" x="529" y="984" width="1" height="5"/>
<rect class="ln" x="579" y="984" width="1" height="5"/>
<rect class="ln" x="629" y="984" width="1" height="5"/>
<rect class="ln" x="679" y="984" width="1" height="5"/>
<rect class="ln" x="729" y="984" width="1" height="5"/>
<rect class="ln" x="779" y="984" width="1" height="5"/>
<rect x="646" y="974" width="10" height="12" fill="#7700cc"/>
<rect x="657" y="974" width="10" height="12" fill="#7700cc"/>
<rect x="672" y="975" width="10" height="11" fill="#7700cc"/>
<rect x="645" y="987" width="11" height="12" fill="#808080"/>
<rect x="656" y="987" width="11" height="14" fill="#808080"/>
<rect x="657" y="987" width="10" height="12" fill="#00c5c8"/>
<rect x="671" y="987" width="11" height="12" fill="#808080"/>
</g>
<g>
<rect x="10" y="1009" width="791" height="38" fill="#fff"/>
<text class="t" x="88" y="1032" textLength="88" lengthAdjust="spacingAndGlyphs">Sb06g017330</text>
<rect class="ln" x="180" y="1027" width="600" height="1"/>
<rect class="ln" x="180" y="1025" width="1" height="5"/>
<rect class="ln" x="230" y="1025" width="1" height="5"/>
<rect class="ln" x="280" y="1025" width="1" height="5"/>
<rect class="ln" x="330" y="1025" width="1" height="5"/>
<rect class="ln" x="380" y="1025" width="1" height="5"/>
<rect class="ln" x="430" y="1025" width="1" height="5"/>
<rect class="ln" x="479" y="1025" width="1" height="5"/>
<rect class="ln" x="529" y="1025" width="1" height="5"/>
<rect class="ln" x="579" y="1025" width="1" height="5"/>
<rect class="ln" x="629" y="1025" width="1" height="5"/>
<rect class="ln" x="679" y="1025" width="1" height="5"/>
<rect class="ln" x="729" y="1025" width="1" height="5"/>
<rect class="ln" x="779" y="1025" width="1" height="5"/>
<rect x="662" y="1021" width="6" height="6" fill="#ff0000"/>
<rect x="743" y="1028" width="6" height="6" fill="#ff55aa"/>
<rect x="755" y="1021" width="6" height="6" fill="#0000ff"/>
</g>
<g>
<rect x="10" y="1050" width="791" height="38" fill="#fff"/>
<text class="t" x="88" y="1073" textLength="88" lengthAdjust="spacingAndGlyphs">Sb09g023360</text>
<rect class="ln" x="360" y="1068" width="420" height="1"/>
<rect class="ln" x="380" y="1066" width="1" height="5"/>
<rect class="ln" x="430" y="1066" width="1" height="5"/>
<rect class="ln" x="479" y="1066" width="1" height="5"/>
<rect class="ln" x="529" y="1066" width="1" height="5"/>
<rect class="ln" x="579" y="1066" width="1" height="5"/>
<rect class="ln" x="629" y="1066" width="1" height="5"/>
<rect class="ln" x="679" y="1066" width="1" height="5"/>
<rect class="ln" x="729" y="1066" width="1" height="5"/>
<rect class="ln" x="779" y="1066" width="1" height="5"/>
<rect class="ln" x="360" y="1066" width="1" height="5"/>
<rect x="583" y="1057" width="10" height="11" fill="#7700cc"/>
<rect x="594" y="1057" width="10" height="11" fill="#7700cc"/>
<rect x="636" y="1061" width="10" height="7" fill="#7700cc"/>
<rect x="582" y="1069" width="11" height="12" fill="#808080"/>
<rect x="583" y="1069" width="10" height="12" fill="#00c5c8"/>
<rect x="583" y="1069" width="8" height="10" fill="#662222"/>
<rect x="593" y="1069" width="11" height="10" fill="#808080"/>
<rect x="594" y="1069" width="10" height="10" fill="#00c5c8"/>
<rect x="594" y="1069" width="8" height="8" fill="#662222"/>
<rect x="635" y="1069" width="11" height="7" fill="#808080"/>
</g>
<g>
<rect x="10" y="1091" width="791" height="38" fill="#fff"/>
<text class="t" x="88" y="1114" textLength="88" lengthAdjust="spacingAndGlyphs">Sb06g013790</text>
<rect class="ln" x="180" y="1109" width="600" height="1"/>
<rect class="ln" x="180" y="1107" width="1" height="5"/>
<rect class="ln" x="230" y="1107" width="1" height="5"/>
<rect class="ln" x="280" y="1107" width="1" height="5"/>
<rect class="ln" x="330" y="1107" width="1" height="5"/>
<rect class="ln" x="380" y="1107" width="1" height="5"/>
<rect class="ln" x="430" y="1107" width="1" height="5"/>
<rect class="ln" x="479" y="1107" width="1" height="5"/>
<rect class="ln" x="529" y="1107" width="1" height="5"/>
<rect class="ln" x="579" y="1107" width="1" height="5"/>
<rect class="ln" x="629" y="1107" width="1" height="5"/>
<rect class="ln" x="679" y="1107" width="1" height="5"/>
<rect class="ln" x="729" y="1107" width="1" height="5"/>
<rect class="ln" x="779" y="1107" width="1" height="5"/>
<rect x="566" y="1099" width="11" height="10" fill="#808080"/>
<rect x="566" y="1100" width="10" height="9" fill="#00c5c8"/>
<rect x="569" y="1100" width="7" height="9" fill="#662222"/>
<rect x="579" y="1096" width="10" height="13" fill="#7700cc"/>
<rect x="566" y="1110" width="10" height="8" fill="#7700cc"/>
<rect x="578" y="1110" width="11" height="13" fill="#808080"/>
<rect x="579" y="1110" width="10" height="13" fill="#00c5c8"/>
<rect x="579" y="1110" width="8" height="10" fill="#662222"/>
<rect x="709" y="1102" width="10" height="7" fill="#ff55aa"/>
</g>
<g>
<rect x="10" y="1132" width="791" height="38" fill="#fff"/>
<text class="t" x="72" y="1155" textLength="104" lengthAdjust="spacingAndGlyphs">Sb0019s004400</text>
<rect class="ln" x="180" y="1150" width="600" height="1"/>
<rect class="ln" x="180" y="1148" width="1" height="5"/>
<rect class="ln" x="230" y="1148" width="1" height="5"/>
<rect class="ln" x="280" y="1148" width="1" height="5"/>
<rect class="ln" x="330" y="1148" width="1" height="5"/>
<rect class="ln" x="380" y="1148" width="1" height="5"/>
<rect class="ln" x="430" y="1148" width="1" height="5"/>
<rect class="ln" x="479" y="1148" width="1" height="5"/>
<rect class="ln" x="529" y="1148" width="1" height="5"/>
<rect class="ln" x="579" y="1148" width="1" height="5"/>
<rect class="ln" x="629" y="1148" width="1" height="5"/>
<rect class="ln" x="679" y="1148" width="1" height="5"/>
<rect class="ln" x="729" y="1148" width="1" height="5"/>
<rect class="ln" x="779" y="1148" width="1" height="5"/>
<rect x="365" y="1151" width="10" height="6" fill="#00c5c8"/>
<rect x="581" y="1144" width="10" height="6" fill="#7700cc"/>
<rect x="588" y="1142" width="10" height="8" fill="#7700cc"/>
<rect x="587" y="1151" width="11" height="9" fill="#808080"/>
<rect x="581" y="1151" width="10" height="7" fill="#00c5c8"/>
<rect x="588" y="1151" width="10" height="9" fill="#00c5c8"/>
<rect x="591" y="1151" width="4" height="7" fill="#662222"/>
<rect x="602" y="1151" width="6" height="9" fill="#ff55aa"/>
<rect x="619" y="1151" width="11" height="6" fill="#808080"/>
<rect x="760" y="1144" width="10" height="6" fill="#7700cc"/>
</g>
<g>
<rect x="10" y="1173" width="791" height="38" fill="#fff"/>
<text class="t" x="88" y="1196" textLength="88" lengthAdjust="spacingAndGlyphs">Sb07g022680</text>
<rect class="ln" x="180" y="1191" width="600" height="1"/>
<rect class="ln" x="180" y="1189" width="1" height="5"/>
<rect class="ln" x="230" y="1189" width="1" height="5"/>
<rect class="ln" x="280" y="1189" width="1" height="5"/>
<rect class="ln" x="330" y="1189" width="1" height="5"/>
<rect class="ln" x="380" y="1189" width="1" height="5"/>
<rect class="ln" x="430" y="1189" width="1" height="5"/>
<rect class="ln" x="479" y="1189" width="1" height="5"/>
<rect class="ln" x="529" y="1189" width="1" height="5"/>
<rect class="ln" x="579" y="1189" width="1" height="5"/>
<rect class="ln" x="629" y="1189" width="1" height="5"/>
<rect class="ln" x="679" y="1189" width="1" height="5"/>
<rect class="ln" x="729" y="1189" width="1" height="5"/>
<rect class="ln" x="779" y="1189" width="1" height="5"/>
<rect x="642" y="1182" width="10" height="9" fill="#7700cc"/>
<rect x="646" y="1184" width="10" height="7" fill="#7700cc"/>
<rect x="659" y="1181" width="10" height="10" fill="#7700cc"/>
<rect x="720" y="1184" width="6" height="7" fill="#ff55aa"/>
<rect x="641" y="1192" width="11" height="8" fill="#808080"/>
<rect x="642" y="1192" width="10" height="7" fill="#00c5c8"/>
<rect x="658" y="1192" width="11" height="11" fill="#808080"/>
<rect x="659" y="1192" width="10" height="10" fill="#00c5c8"/>
<rect x="659" y="1192" width="7" height="9" fill="#662222"/>
<rect x="670" y="1192" width="6" height="7" fill="#ff55aa"/>
</g>
</svg></body></html>
